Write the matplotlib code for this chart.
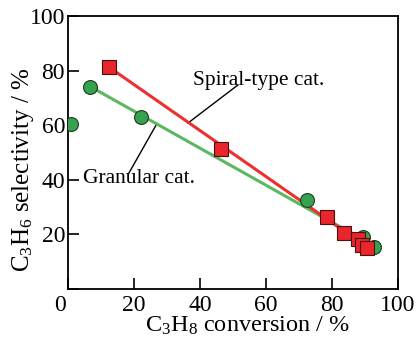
import matplotlib
matplotlib.use('Agg')
import matplotlib.pyplot as plt

# granular catalyst (green circles)
gran_x = [1.0, 6.8, 22.1, 72.5, 89.4, 92.7]
gran_y = [60.4, 74.1, 63.1, 32.6, 19.2, 15.6]
# spiral-type catalyst (red squares)
spir_x = [12.5, 46.3, 78.4, 83.7, 87.8, 89.0, 90.5]
spir_y = [81.2, 51.2, 26.5, 20.4, 18.2, 16.1, 15.0]
# trend lines (endpoints)
gran_line_x = [6.8, 91.0]
gran_line_y = [74.1, 17.0]
spir_line_x = [12.5, 90.5]
spir_line_y = [81.2, 15.5]

ticks = [0, 20, 40, 60, 80, 100]
tick_labels = ['', '20', '40', '60', '80', '100']

plt.rcParams['font.family'] = ['Liberation Serif', 'DejaVu Serif']
plt.rcParams['mathtext.fontset'] = 'custom'
plt.rcParams['mathtext.rm'] = 'Liberation Serif'
plt.rcParams['mathtext.it'] = 'Liberation Serif:italic'

fig = plt.figure(figsize=(4.19, 3.37), dpi=100)
ax = fig.add_axes([0.162, 0.142, 0.788, 0.811])

ax.plot(gran_line_x, gran_line_y, color='#5cb85f', lw=2.2, zorder=2)
ax.plot(spir_line_x, spir_line_y, color='#ee2f2f', lw=2.2, zorder=2)
ax.plot(gran_x, gran_y, 'o', ms=10, mfc='#35a24f', mec='#1f3a22', mew=0.8, zorder=3)
ax.plot(spir_x, spir_y, 's', ms=9.5, mfc='#e8262b', mec='#4a1010', mew=0.8, zorder=4)

ax.set_xlim(0, 100)
ax.set_ylim(0, 100)
ax.set_xticks(ticks)
ax.set_xticklabels(tick_labels)
ax.set_yticks(ticks)
ax.set_yticklabels(tick_labels)
ax.tick_params(direction='in', length=8, width=1.2, labelsize=17, pad=2,
               top=False, right=False)
ax.tick_params(axis='x', pad=4)
ax.text(-0.006, -0.022, '0', transform=ax.transAxes, ha='right', va='top', fontsize=17)
for s in ax.spines.values():
    s.set_linewidth(1.3)

ax.set_xlabel(r'C$_3$H$_8$ conversion / %', fontsize=17.5)
ax.set_ylabel(r'C$_3$H$_6$ selectivity / %', fontsize=18)
ax.xaxis.set_label_coords(0.545, -0.094)
ax.yaxis.set_label_coords(-0.097, 0.436)

# annotations
ax.plot([36.4, 51.5], [60.8, 74.7], color='black', lw=1.0, zorder=1)
ax.text(38.0, 76.5, 'Spiral-type cat.', fontsize=15.5, va='center', ha='left')
ax.plot([26.7, 18.5], [60.0, 42.5], color='black', lw=1.0, zorder=1)
ax.text(4.5, 40.5, 'Granular cat.', fontsize=15.5, va='center', ha='left')

fig.savefig('out.png', dpi=100)
